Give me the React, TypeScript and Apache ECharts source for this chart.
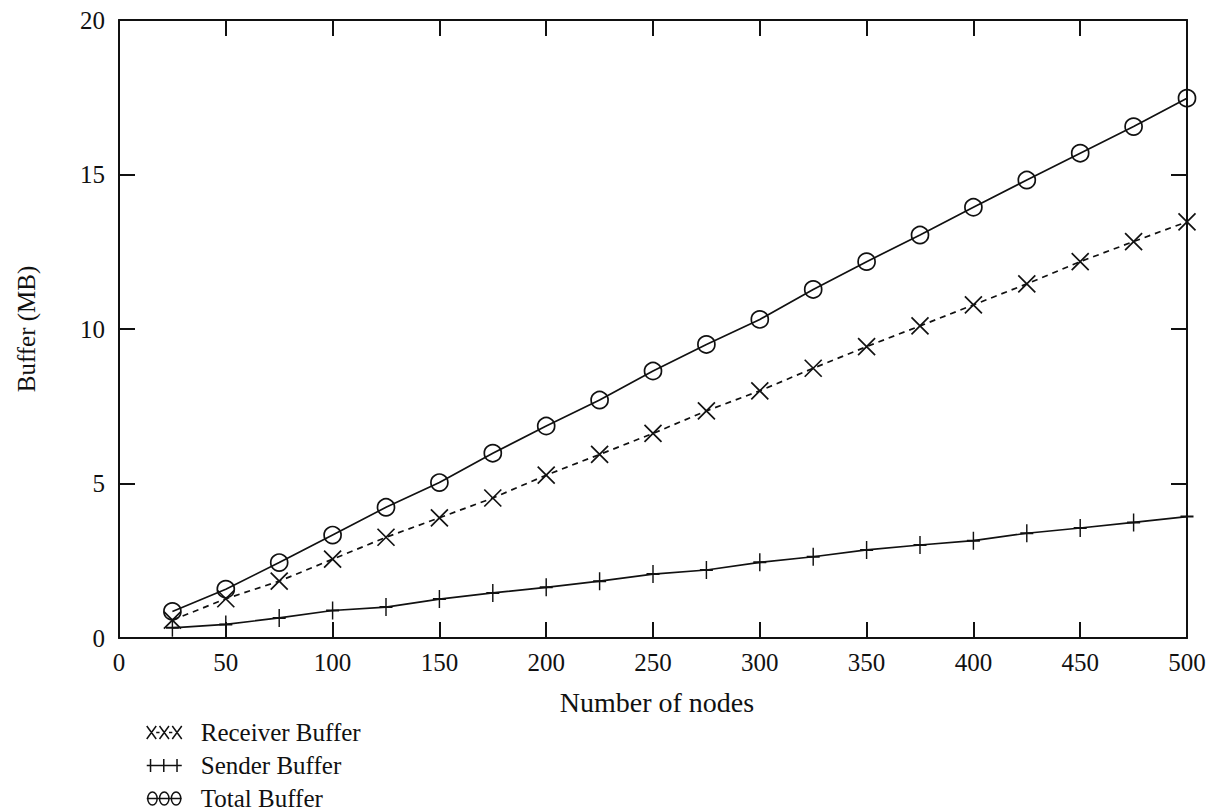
import React, { useEffect, useRef } from "react";
import * as echarts from "echarts";

// Node counts on the horizontal axis
const nodeCounts = [25, 50, 75, 100, 125, 150, 175, 200, 225, 250, 275, 300, 325, 350, 375, 400, 425, 450, 475, 500];

// Buffer sizes in MB
const receiverBuffer = [0.58, 1.27, 1.84, 2.55, 3.26, 3.89, 4.53, 5.27, 5.94, 6.62, 7.35, 8.0, 8.73, 9.43, 10.1, 10.78, 11.46, 12.18, 12.83, 13.47];
const senderBuffer = [0.33, 0.44, 0.65, 0.89, 1.0, 1.26, 1.46, 1.64, 1.84, 2.07, 2.2, 2.45, 2.63, 2.85, 3.01, 3.15, 3.39, 3.56, 3.74, 3.93];
const totalBuffer = [0.86, 1.58, 2.44, 3.33, 4.23, 5.03, 5.98, 6.86, 7.7, 8.64, 9.5, 10.31, 11.28, 12.18, 13.04, 13.94, 14.82, 15.69, 16.55, 17.47];

const seriesNames = ["Receiver Buffer", "Sender Buffer", "Total Buffer"];

const FONT = "'Liberation Serif', 'Times New Roman', serif";
const INK = "#111";

const crossPath = "path://M0,0L10,10M10,0L0,10";
const plusPath = "path://M6,0L6,16M0,8L12,8";

const legendCross = "path://M0,0L10,10M10,0L0,10M13.5,0L23.5,10M23.5,0L13.5,10M27,0L37,10M37,0L27,10M10,5L13.5,5M23.5,5L27,5";
const legendPlus = "path://M4,0L4,10M18,0L18,10M32,0L32,10M0,5L37,5";
const legendCircle = "path://M1,5A5,5,0,1,1,11,5A5,5,0,1,1,1,5ZM13.5,5A5,5,0,1,1,23.5,5A5,5,0,1,1,13.5,5ZM26,5A5,5,0,1,1,36,5A5,5,0,1,1,26,5ZM0,5L37,5";

const pairs = (ys: number[]) => nodeCounts.map((x, i) => [x, ys[i]]);

export default function App() {
  const ref = useRef<HTMLDivElement>(null);

  useEffect(() => {
    if (!ref.current) return;
    const chart = echarts.init(ref.current, null, { renderer: "svg" });

    const axisLine = () => ({ show: true, onZero: false, lineStyle: { color: INK, width: 2 } });
    const tick = () => ({ show: true, inside: true, length: 16, lineStyle: { color: INK, width: 2 } });
    const labelStyle = { color: INK, fontFamily: FONT, fontSize: 25 };
    const legendItemStyle = { color: "rgba(0,0,0,0)", borderColor: INK, borderWidth: 1.5 };

    chart.setOption({
      animation: false,
      backgroundColor: "#fff",
      grid: { left: 119, right: 26, top: 20, bottom: 202, containLabel: false },
      xAxis: [
        {
          type: "value",
          min: 0,
          max: 500,
          interval: 50,
          position: "bottom",
          name: "Number of nodes",
          nameLocation: "middle",
          nameGap: 50,
          nameTextStyle: { ...labelStyle, fontSize: 28, padding: [0, 0, 0, 8] },
          axisLine: axisLine(),
          axisTick: tick(),
          splitLine: { show: false },
          axisLabel: { ...labelStyle, margin: 12 },
        },
        {
          type: "value",
          min: 0,
          max: 500,
          interval: 50,
          position: "top",
          axisLine: axisLine(),
          axisTick: tick(),
          splitLine: { show: false },
          axisLabel: { show: false },
        },
      ],
      yAxis: [
        {
          type: "value",
          min: 0,
          max: 20,
          interval: 5,
          position: "left",
          name: "Buffer (MB)",
          nameLocation: "middle",
          nameGap: 80,
          nameTextStyle: { ...labelStyle },
          axisLine: axisLine(),
          axisTick: tick(),
          splitLine: { show: false },
          axisLabel: { ...labelStyle, margin: 14 },
        },
        {
          type: "value",
          min: 0,
          max: 20,
          interval: 5,
          position: "right",
          axisLine: axisLine(),
          axisTick: tick(),
          splitLine: { show: false },
          axisLabel: { show: false },
        },
      ],
      legend: {
        orient: "vertical",
        left: 146,
        top: 720,
        padding: 0,
        itemWidth: 35,
        itemHeight: 13,
        itemGap: 8,
        symbolKeepAspect: false,
        textStyle: { color: INK, fontFamily: FONT, fontSize: 25, lineHeight: 25, padding: [0, 0, 0, 14] },
        data: [
          { name: seriesNames[0], icon: legendCross, itemStyle: legendItemStyle },
          { name: seriesNames[1], icon: legendPlus, itemStyle: legendItemStyle },
          { name: seriesNames[2], icon: legendCircle, itemStyle: legendItemStyle },
        ],
      },
      series: [
        {
          name: seriesNames[0],
          type: "line",
          data: pairs(receiverBuffer),
          symbol: crossPath,
          symbolSize: 17,
          lineStyle: { color: INK, width: 1.7, type: [6, 5] },
          itemStyle: { color: "rgba(0,0,0,0)", borderColor: INK, borderWidth: 1.7 },
          z: 3,
        },
        {
          name: seriesNames[1],
          type: "line",
          data: pairs(senderBuffer),
          symbol: plusPath,
          symbolSize: [13, 18],
          symbolKeepAspect: false,
          lineStyle: { color: INK, width: 1.7 },
          itemStyle: { color: "rgba(0,0,0,0)", borderColor: INK, borderWidth: 1.7 },
          z: 3,
        },
        {
          name: seriesNames[2],
          type: "line",
          data: pairs(totalBuffer),
          symbol: "circle",
          symbolSize: 17,
          lineStyle: { color: INK, width: 1.7 },
          itemStyle: { color: "rgba(0,0,0,0)", borderColor: INK, borderWidth: 1.7 },
          z: 3,
        },
      ],
    });

    return () => chart.dispose();
  }, []);

  return (
    <div
      ref={ref}
      style={{ position: "fixed", left: 0, top: 0, width: 1213, height: 840, background: "#fff" }}
    />
  );
}
